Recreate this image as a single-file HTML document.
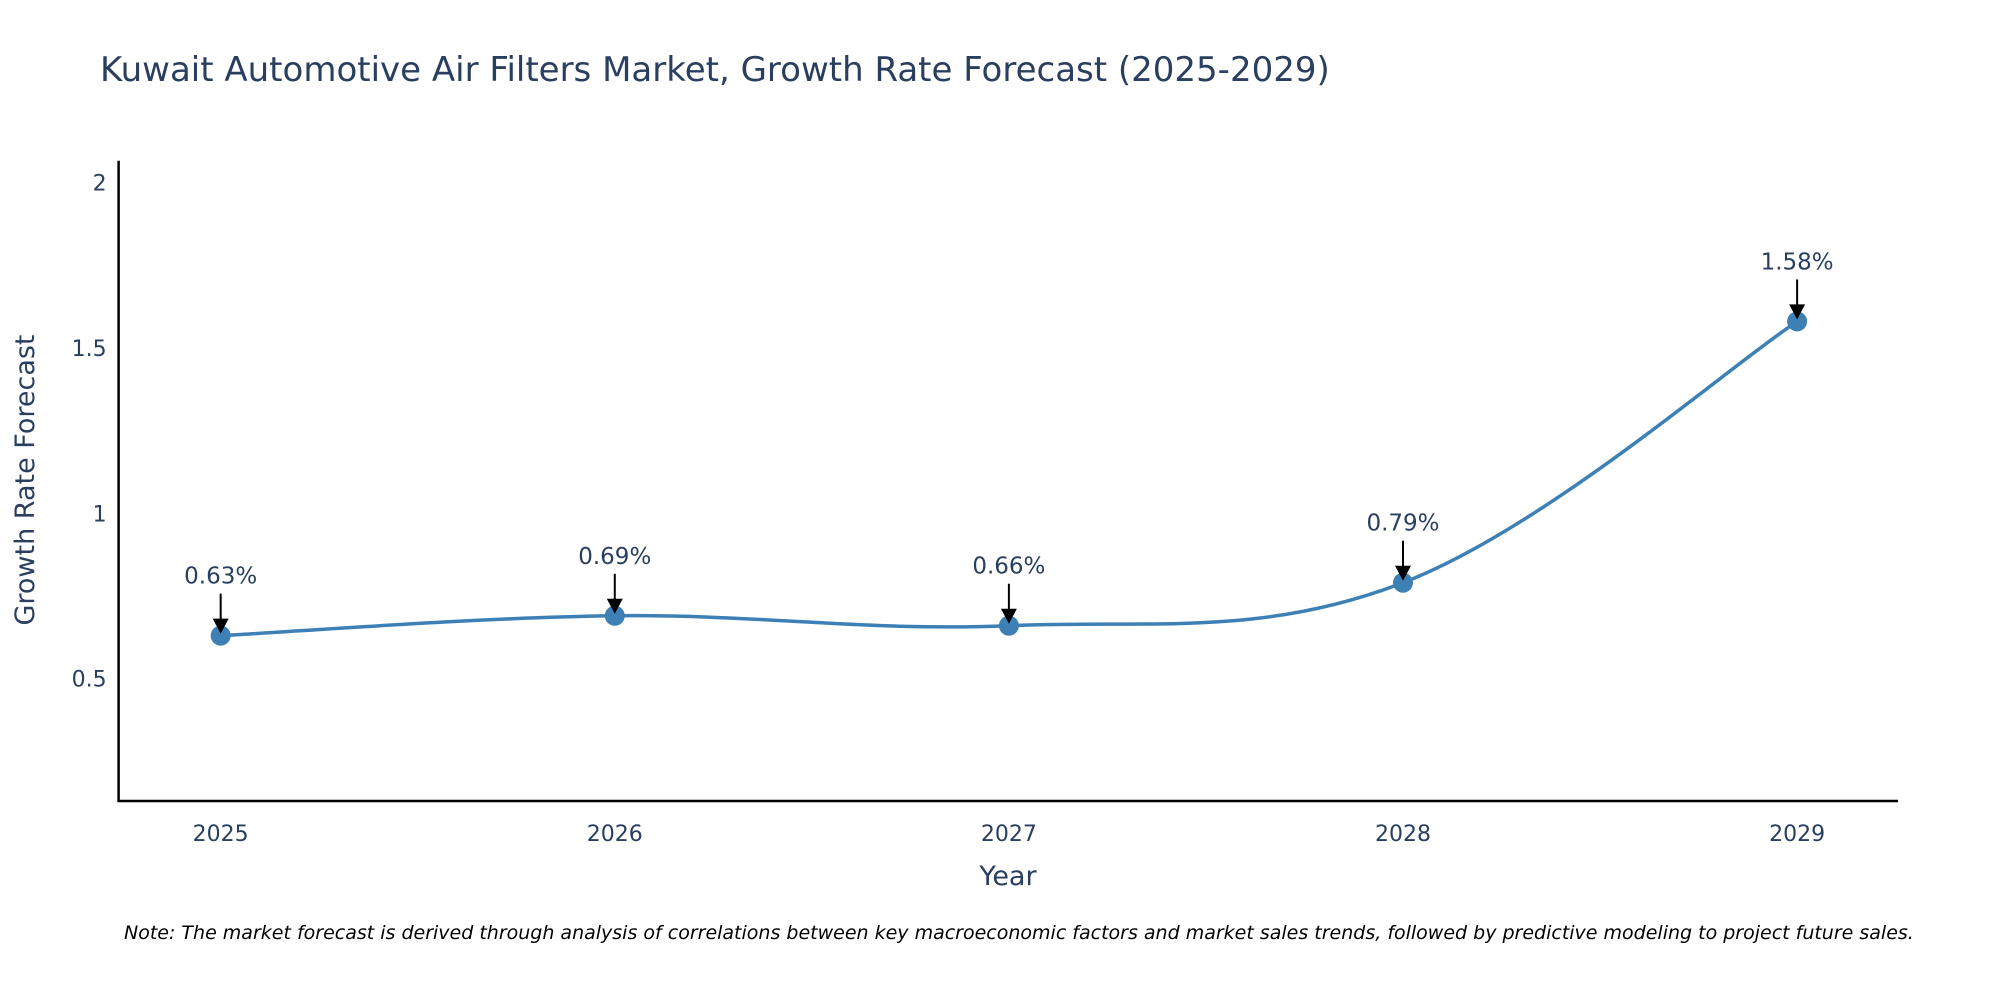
<!DOCTYPE html>
<html><head><meta charset="utf-8"><style>
body{margin:0;background:#fff}
svg text{font-family:"DejaVu Sans","Liberation Sans",sans-serif;fill:#2a3f5f}
</style></head><body>
<svg id="chart" width="2000" height="1000" viewBox="0 0 2000 1000" xmlns="http://www.w3.org/2000/svg">
<text x="100" y="81" font-size="34">Kuwait Automotive Air Filters Market, Growth Rate Forecast (2025-2029)</text>
<g id="plot"></g>
<text transform="translate(34,480) rotate(-90)" text-anchor="middle" font-size="27">Growth Rate Forecast</text>
<text x="1008" y="885" text-anchor="middle" font-size="27">Year</text>
<text x="124" y="939" font-size="19" font-style="italic" style="fill:#000">Note: The market forecast is derived through analysis of correlations between key macroeconomic factors and market sales trends, followed by predictive modeling to project future sales.</text>
</svg>
<script>
const years = [2025, 2026, 2027, 2028, 2029];
const growth = [0.63, 0.69, 0.66, 0.79, 1.58];
const labels = ["0.63%", "0.69%", "0.66%", "0.79%", "1.58%"];
const yTicks = [0.5, 1, 1.5, 2];
const yTickLabels = ["0.5", "1", "1.5", "2"];

const NS = "http://www.w3.org/2000/svg";
const L = 118.6, R = 1898, T = 160.7, B = 801;
const xMin = 2025 - 0.259, xMax = 2029 + 0.256, yMin = 0.13, yMax = 2.066;
const xs = v => L + (v - xMin) / (xMax - xMin) * (R - L);
const ys = v => B - (v - yMin) / (yMax - yMin) * (B - T);
const g = document.getElementById("plot");
function mk(tag, attrs, parent) {
  const e = document.createElementNS(NS, tag);
  for (const k in attrs) e.setAttribute(k, attrs[k]);
  (parent || g).appendChild(e);
  return e;
}

const ya = mk("line", {x1: L, y1: T, x2: L, y2: B + 1, stroke: "#000", "stroke-width": 2.5});


const xa = mk("line", {x1: L - 1, y1: B, x2: R, y2: B, stroke: "#000", "stroke-width": 2.5});



yTicks.forEach((t, i) => {
  const tx = mk("text", {x: L - 12, y: ys(t) + 8, "text-anchor": "end", "font-size": 22});
  tx.textContent = yTickLabels[i];
  
  
});
years.forEach(y => {
  const tx = mk("text", {x: xs(y), y: B + 40, "text-anchor": "middle", "font-size": 22});
  tx.textContent = String(y);
  
  
});

const pts = years.map((y, i) => [xs(y), ys(growth[i])]);
let d = "M" + pts[0][0] + "," + pts[0][1];
const tens = 0.18;
for (let i = 0; i < pts.length - 1; i++) {
  const p0 = pts[Math.max(0, i - 1)], p1 = pts[i], p2 = pts[i + 1], p3 = pts[Math.min(pts.length - 1, i + 2)];
  const c1 = [p1[0] + (p2[0] - p0[0]) * tens, p1[1] + (p2[1] - p0[1]) * tens];
  const c2 = [p2[0] - (p3[0] - p1[0]) * tens, p2[1] - (p3[1] - p1[1]) * tens];
  d += " C" + c1.join(",") + " " + c2.join(",") + " " + p2.join(",");
}
const line = mk("path", {d: d, fill: "none", stroke: "#3d80b5", "stroke-width": 3.5});



pts.forEach((p, i) => {
  const c = mk("circle", {cx: p[0], cy: p[1], r: 10, fill: "#3d80b5"});
  
  
  const a = mk("line", {x1: p[0], y1: p[1] - 42, x2: p[0], y2: p[1] - 14, stroke: "#000", "stroke-width": 2});
  
  
  const h = mk("polygon", {points: (p[0] - 8) + "," + (p[1] - 17) + " " + (p[0] + 8) + "," + (p[1] - 17) + " " + p[0] + "," + (p[1] - 2), fill: "#000"});
  
  
  const t = mk("text", {x: p[0], y: p[1] - 52, "text-anchor": "middle", "font-size": 23});
  t.textContent = labels[i];
  
  
});
</script>
</body></html>
